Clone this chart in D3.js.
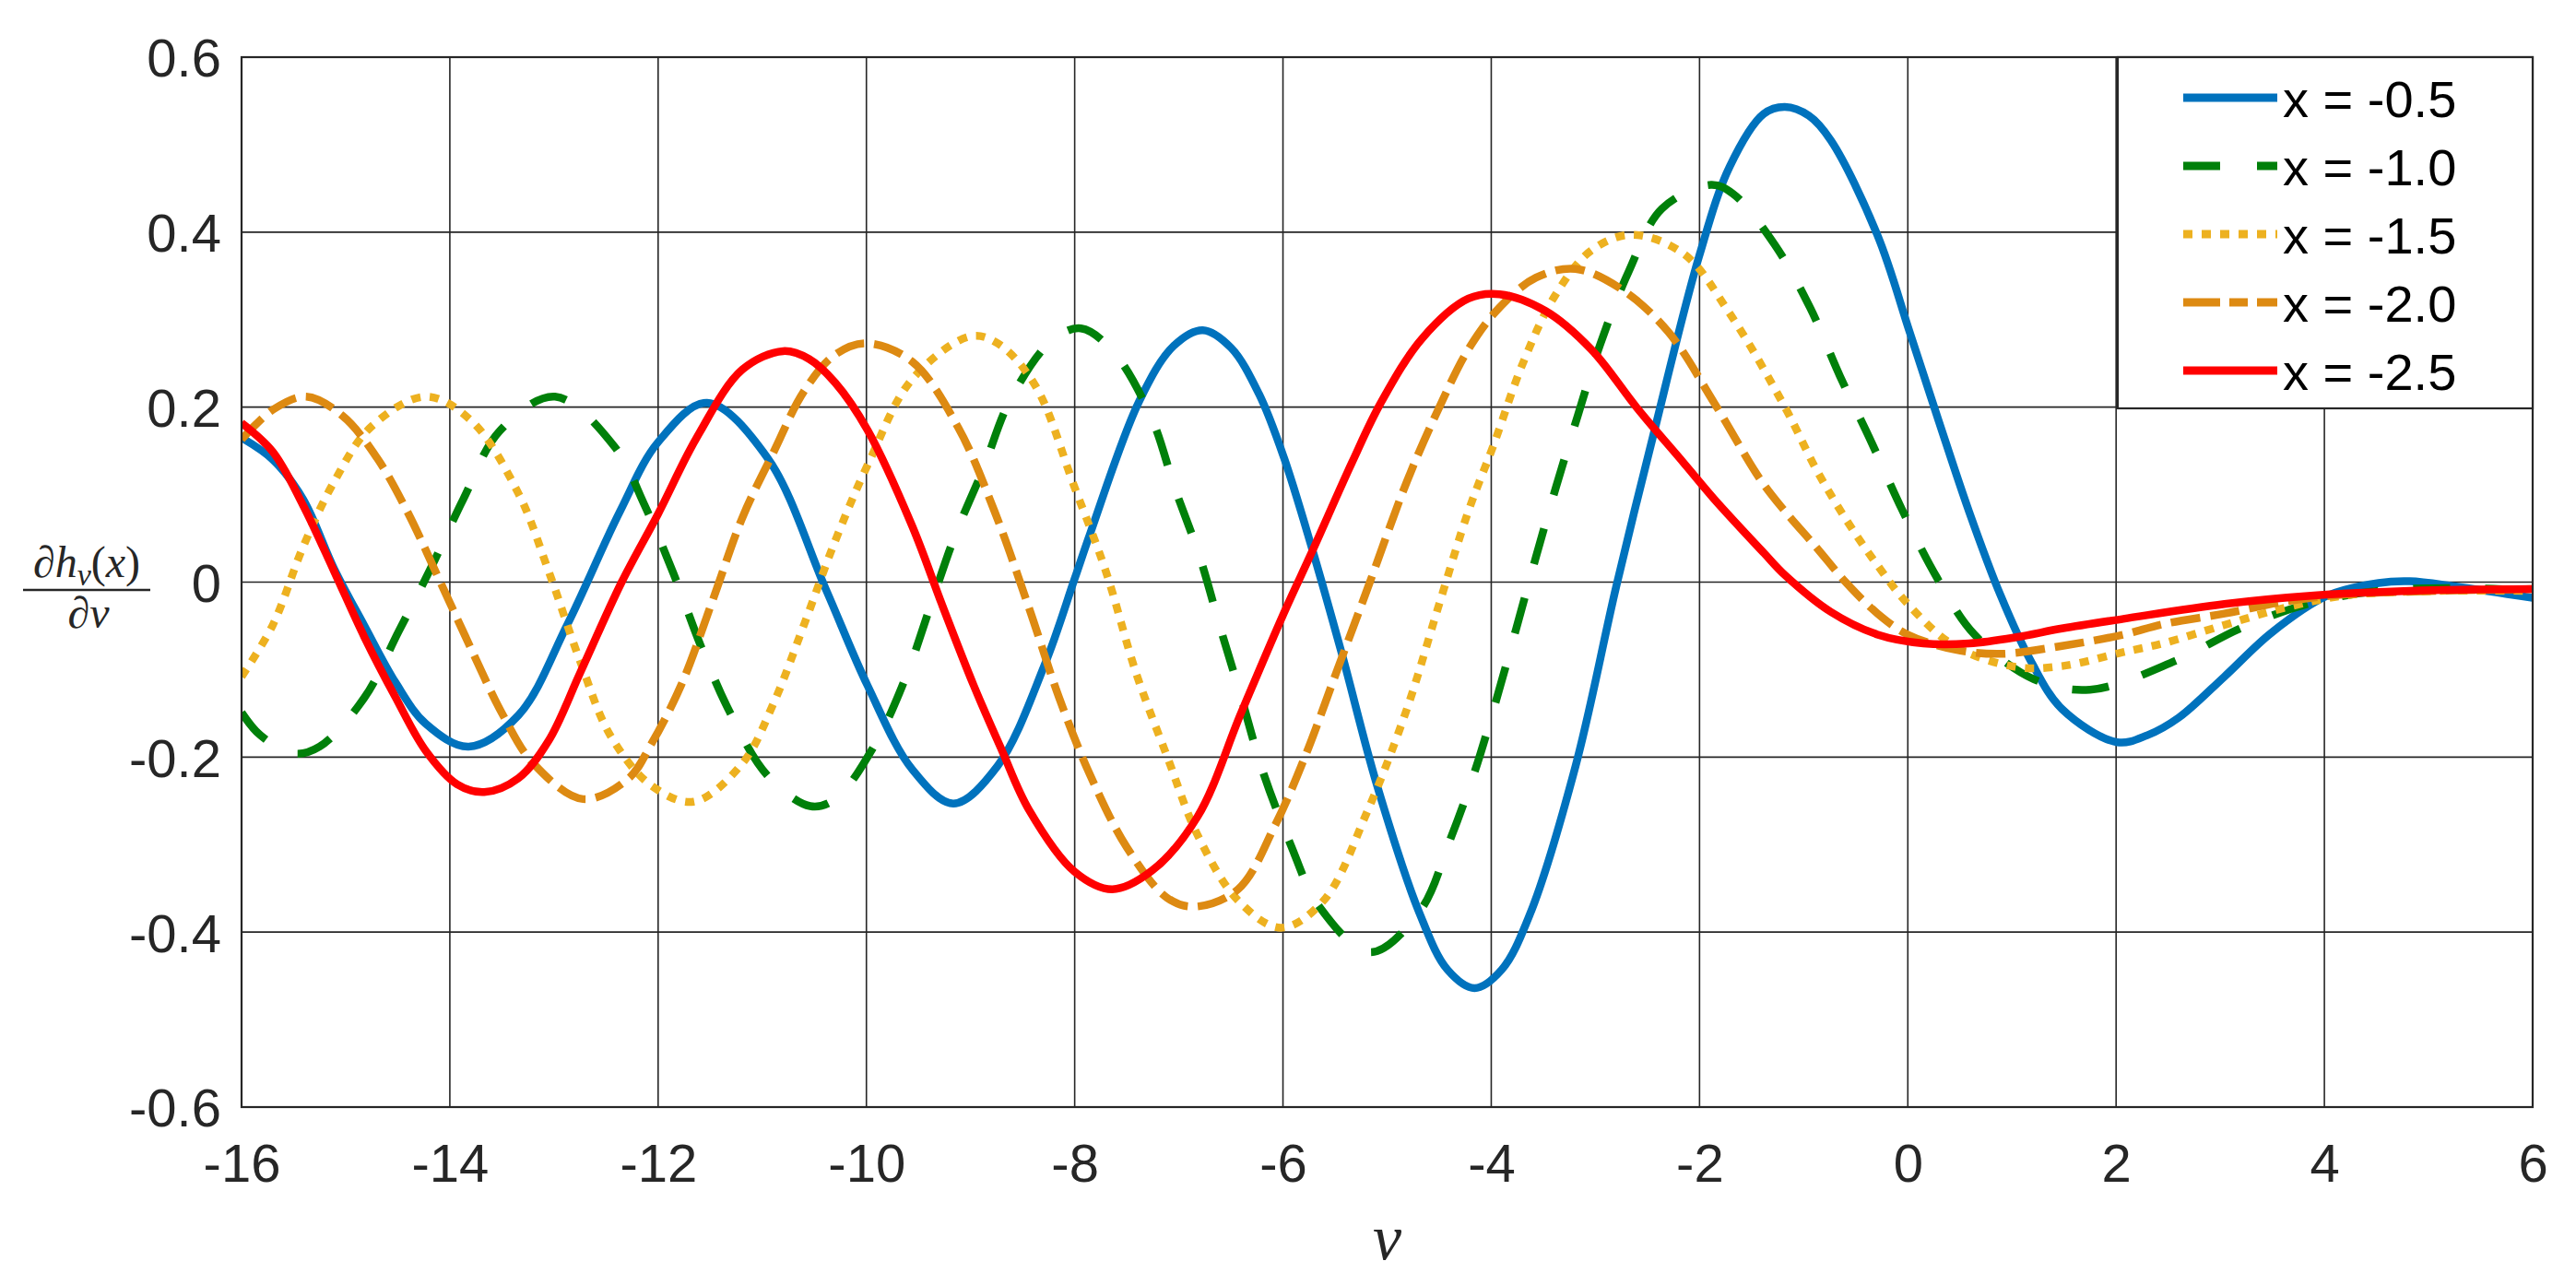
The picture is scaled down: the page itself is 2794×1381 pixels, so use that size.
<!DOCTYPE html>
<html>
<head>
<meta charset="utf-8">
<script src="https://cdn.jsdelivr.net/npm/d3@7"></script>
<style>
  html, body { margin: 0; padding: 0; background: #fff; }
  svg { display: block; }
</style>
</head>
<body>
<svg id="chart" width="2794" height="1381"></svg>
<script>
// ---------------- data ----------------
const xTicks = [-16, -14, -12, -10, -8, -6, -4, -2, 0, 2, 4, 6];
const yTicks = [-0.6, -0.4, -0.2, 0, 0.2, 0.4, 0.6];
const yTickLabels = ["-0.6", "-0.4", "-0.2", "0", "0.2", "0.4", "0.6"];
const seriesNames = ["x = -0.5", "x = -1.0", "x = -1.5", "x = -2.0", "x = -2.5"];

const nuBlue = [-16, -15.7, -15.41, -15.11, -14.82, -14.52, -14.23, -13.82, -13.34, -12.87, -12.37, -12.0, -11.53, -10.95, -10.39, -9.99, -9.56, -9.165, -8.74, -8.29, -8.0, -7.85, -7.38, -7.05, -6.77, -6.5, -6.23, -5.99, -5.725, -5.43, -5.1, -4.69, -4.42, -4.16, -3.9, -3.63, -3.19, -2.8, -2.45, -2.005, -1.71, -1.385, -1.18, -0.95, -0.74, -0.29, 0.02, 0.3, 0.59, 0.89, 1.18, 1.48, 2.01, 2.3, 2.6, 3.04, 3.49, 4.02, 4.52, 4.82, 5.26, 6.0];
const valBlue = [0.165, 0.14, 0.095, 0.015, -0.05, -0.115, -0.162, -0.188, -0.152, -0.048, 0.08, 0.16, 0.205, 0.142, -0.008, -0.118, -0.214, -0.253, -0.21, -0.095, 0.004, 0.056, 0.207, 0.27, 0.288, 0.268, 0.215, 0.142, 0.04, -0.084, -0.231, -0.378, -0.443, -0.464, -0.443, -0.38, -0.21, -0.005, 0.165, 0.372, 0.475, 0.535, 0.543, 0.533, 0.505, 0.396, 0.285, 0.183, 0.08, -0.015, -0.09, -0.145, -0.183, -0.175, -0.155, -0.108, -0.058, -0.016, -0.001, 0.001, -0.005, -0.018];

const nuGreen = [-16, -15.82, -15.5, -15.25, -14.82, -14.49, -14.17, -13.87, -13.52, -12.99, -12.42, -12.13, -11.85, -11.59, -11.31, -10.95, -10.54, -10.3, -9.92, -9.62, -9.39, -9.15, -8.88, -8.62, -8.22, -7.94, -7.62, -7.26, -7.04, -6.8, -6.6, -6.4, -6.2, -5.93, -5.65, -5.16, -4.68, -4.4, -4.16, -3.95, -3.76, -3.57, -3.38, -3.17, -2.95, -2.68, -2.36, -1.89, -1.68, -1.28, -0.94, -0.65, -0.35, -0.06, 0.28, 0.64, 1.21, 1.75, 2.57, 3.19, 3.84, 4.52, 5.41, 6.0];
const valGreen = [-0.149, -0.175, -0.196, -0.188, -0.132, -0.056, 0.019, 0.095, 0.173, 0.212, 0.155, 0.088, 0.009, -0.073, -0.149, -0.221, -0.256, -0.248, -0.186, -0.108, -0.029, 0.053, 0.129, 0.208, 0.276, 0.29, 0.262, 0.187, 0.108, 0.029, -0.053, -0.132, -0.214, -0.299, -0.371, -0.423, -0.375, -0.296, -0.217, -0.134, -0.053, 0.029, 0.108, 0.19, 0.273, 0.355, 0.427, 0.454, 0.444, 0.386, 0.314, 0.235, 0.16, 0.084, 0.005, -0.06, -0.111, -0.123, -0.09, -0.053, -0.025, -0.01, -0.007, -0.01];

const nuYellow = [-16, -15.7, -15.41, -15.11, -14.76, -14.23, -13.79, -13.34, -13.05, -12.75, -12.46, -12.07, -11.66, -11.19, -10.89, -10.6, -10.3, -9.98, -9.56, -9.0, -8.74, -8.38, -8.0, -7.7, -7.41, -7.11, -6.82, -6.43, -6.02, -5.61, -5.19, -4.81, -4.51, -4.22, -3.98, -3.69, -3.39, -3.04, -2.65, -2.15, -1.71, -1.18, -0.88, -0.59, -0.29, 0.0, 0.45, 1.04, 1.48, 2.07, 2.45, 3.04, 3.63, 4.22, 5.11, 6.0];
const valYellow = [-0.108, -0.049, 0.04, 0.115, 0.177, 0.212, 0.184, 0.101, 0.012, -0.09, -0.175, -0.232, -0.251, -0.207, -0.138, -0.049, 0.047, 0.136, 0.232, 0.281, 0.273, 0.225, 0.108, 0.012, -0.104, -0.2, -0.289, -0.364, -0.395, -0.364, -0.262, -0.145, -0.029, 0.081, 0.156, 0.252, 0.327, 0.379, 0.397, 0.375, 0.307, 0.2, 0.129, 0.071, 0.019, -0.025, -0.073, -0.097, -0.096, -0.08, -0.07, -0.049, -0.029, -0.015, -0.01, -0.01];

const nuOrange = [-16, -15.7, -15.38, -15.03, -14.7, -14.41, -14.11, -13.82, -13.49, -13.2, -12.72, -12.28, -12.07, -11.78, -11.48, -11.19, -10.89, -10.6, -10.3, -10.0, -9.56, -9.12, -8.77, -8.44, -8.15, -7.85, -7.5, -7.11, -6.85, -6.43, -6.08, -5.79, -5.49, -5.19, -4.81, -4.51, -4.22, -3.92, -3.57, -3.19, -2.74, -2.3, -1.86, -1.42, -1.18, -0.88, -0.59, -0.29, 0.0, 0.45, 0.89, 1.48, 2.07, 2.45, 3.04, 3.63, 4.22, 5.11, 6.0];
const valOrange = [0.163, 0.197, 0.212, 0.19, 0.142, 0.081, 0.005, -0.07, -0.152, -0.207, -0.248, -0.224, -0.186, -0.118, -0.022, 0.074, 0.149, 0.218, 0.26, 0.273, 0.252, 0.177, 0.081, -0.029, -0.132, -0.221, -0.303, -0.361, -0.371, -0.351, -0.279, -0.2, -0.104, -0.008, 0.115, 0.197, 0.266, 0.314, 0.348, 0.358, 0.334, 0.286, 0.205, 0.118, 0.081, 0.04, -0.001, -0.036, -0.06, -0.077, -0.082, -0.073, -0.06, -0.048, -0.036, -0.022, -0.014, -0.01, -0.008];

const nuRed = [-16, -15.7, -15.41, -15.11, -14.82, -14.52, -14.23, -13.93, -13.67, -13.34, -13.05, -12.75, -12.35, -12.0, -11.63, -11.19, -10.8, -10.55, -10.3, -9.99, -9.56, -9.27, -8.97, -8.7, -8.44, -8.0, -7.64, -7.26, -6.82, -6.4, -5.99, -5.72, -5.34, -5.06, -4.66, -4.22, -3.92, -3.48, -3.04, -2.6, -2.15, -1.86, -1.38, -1.18, -0.74, -0.29, 0.15, 0.59, 1.04, 1.48, 2.07, 3.04, 3.93, 4.82, 6.0];
const valRed = [0.182, 0.149, 0.088, 0.012, -0.063, -0.132, -0.193, -0.231, -0.24, -0.224, -0.181, -0.104, 0.0, 0.078, 0.165, 0.243, 0.264, 0.255, 0.228, 0.174, 0.064, -0.027, -0.118, -0.192, -0.26, -0.331, -0.351, -0.33, -0.268, -0.149, -0.035, 0.035, 0.136, 0.205, 0.279, 0.324, 0.329, 0.31, 0.266, 0.199, 0.136, 0.095, 0.033, 0.008, -0.034, -0.06, -0.07, -0.07, -0.063, -0.053, -0.042, -0.025, -0.015, -0.01, -0.008];

// ---------------- styles ----------------
const seriesStyles = [
  { color: "#0072BD", dash: null,          legendDash: null },
  { color: "#00800A", dash: "40,38",        legendDash: "40,40" },
  { color: "#EDB120", dash: "10,10",        legendDash: "10,10" },
  { color: "#DD8A12", dash: "32,11",        legendDash: "40,10,20,10,22" },
  { color: "#FF0000", dash: null,          legendDash: null }
];
const nuArrays = [nuBlue, nuGreen, nuYellow, nuOrange, nuRed];
const valArrays = [valBlue, valGreen, valYellow, valOrange, valRed];
const series = seriesNames.map((name, i) => ({
  name,
  points: nuArrays[i].map((n, j) => ({ nu: n, v: valArrays[i][j] })),
  ...seriesStyles[i]
}));

// ---------------- layout ----------------
const L = 262, R = 2747, T = 62, B = 1201;
const svg = d3.select("#chart");
const x = d3.scaleLinear().domain([-16, 6]).range([L, R]);
const y = d3.scaleLinear().domain([-0.6, 0.6]).range([B, T]);
const axisColor = "#262626";
const font = "'Liberation Sans', Arial, Helvetica, sans-serif";

svg.append("rect").attr("x", 0).attr("y", 0).attr("width", 2794).attr("height", 1381).attr("fill", "#fff");

// grid
const grid = svg.append("g");
grid.selectAll("line.gx").data(xTicks).join("line")
  .attr("x1", d => x(d)).attr("x2", d => x(d)).attr("y1", T).attr("y2", B)
  .attr("stroke", axisColor).attr("stroke-width", 1.6);
grid.selectAll("line.gy").data(yTicks).join("line")
  .attr("class", "gy")
  .attr("x1", L).attr("x2", R).attr("y1", d => y(d)).attr("y2", d => y(d))
  .attr("stroke", axisColor).attr("stroke-width", 1.6);

// axes (tick labels via d3 axis)
const xAxis = d3.axisBottom(x).tickValues(xTicks).tickSize(0).tickPadding(0).tickFormat(d => String(d));
const gx = svg.append("g").attr("transform", `translate(0,${B})`).call(xAxis);
gx.select(".domain").remove();
gx.selectAll("text").attr("font-family", font).attr("font-size", 58).attr("fill", axisColor)
  .attr("dy", null).attr("y", 81);

const yAxis = d3.axisLeft(y).tickValues(yTicks).tickSize(0).tickPadding(0)
  .tickFormat((d, i) => yTickLabels[i]);
const gy = svg.append("g").attr("transform", `translate(${240},0)`).call(yAxis);
gy.select(".domain").remove();
gy.selectAll("text").attr("font-family", font).attr("font-size", 58).attr("fill", axisColor)
  .attr("x", 0).attr("dy", "0.36em");

// curves
svg.append("clipPath").attr("id", "clip").append("rect")
  .attr("x", L).attr("y", T).attr("width", R - L).attr("height", B - T);
const line = d3.line().x(d => x(d.nu)).y(d => y(d.v)).curve(d3.curveCatmullRom.alpha(0.5));
const curves = svg.append("g").attr("clip-path", "url(#clip)");
series.forEach(s => {
  curves.append("path").datum(s.points)
    .attr("d", line)
    .attr("fill", "none")
    .attr("stroke", s.color)
    .attr("stroke-width", 8.5)
    .attr("stroke-linecap", "butt")
    .attr("stroke-linejoin", "round")
    .attr("stroke-dasharray", s.dash);
});

// box
svg.append("rect").attr("x", L).attr("y", T).attr("width", R - L).attr("height", B - T)
  .attr("fill", "none").attr("stroke", axisColor).attr("stroke-width", 2.2);

// legend
const lg = svg.append("g");
lg.append("rect").attr("x", 2297).attr("y", T).attr("width", R - 2297).attr("height", 381)
  .attr("fill", "#fff").attr("stroke", axisColor).attr("stroke-width", 2.2);
series.forEach((s, i) => {
  const cy = 106 + i * 74;
  lg.append("line").attr("x1", 2368).attr("x2", 2470).attr("y1", cy).attr("y2", cy)
    .attr("stroke", s.color).attr("stroke-width", 9).attr("stroke-dasharray", s.legendDash);
  lg.append("text").attr("x", 2476).attr("y", cy + 21)
    .attr("font-family", font).attr("font-size", 56).attr("fill", "#000")
    .text(s.name);
});

// x label
svg.append("text").attr("x", (L + R) / 2).attr("y", 1366).attr("text-anchor", "middle")
  .attr("font-family", "'Liberation Serif', 'DejaVu Serif', serif").attr("font-style", "italic")
  .attr("font-size", 70).attr("fill", axisColor).text("ν");

// y label: fraction
const serif = "'Liberation Serif', 'DejaVu Serif', serif";
const yl = svg.append("g").attr("font-family", serif).attr("fill", axisColor);
const num = yl.append("text").attr("x", 94).attr("y", 626).attr("text-anchor", "middle").attr("font-size", 48);
num.append("tspan").attr("font-style", "italic").text("∂");
num.append("tspan").attr("font-style", "italic").text("h");
num.append("tspan").attr("font-style", "italic").attr("font-size", 34).attr("dy", 9).text("ν");
num.append("tspan").attr("dy", -9).text("(");
num.append("tspan").attr("font-style", "italic").text("x");
num.append("tspan").text(")");
yl.append("line").attr("x1", 25).attr("x2", 163).attr("y1", 640).attr("y2", 640)
  .attr("stroke", axisColor).attr("stroke-width", 2.5);
const den = yl.append("text").attr("x", 96).attr("y", 681).attr("text-anchor", "middle").attr("font-size", 48);
den.append("tspan").attr("font-style", "italic").text("∂");
den.append("tspan").attr("font-style", "italic").text("ν");
</script>
</body>
</html>
